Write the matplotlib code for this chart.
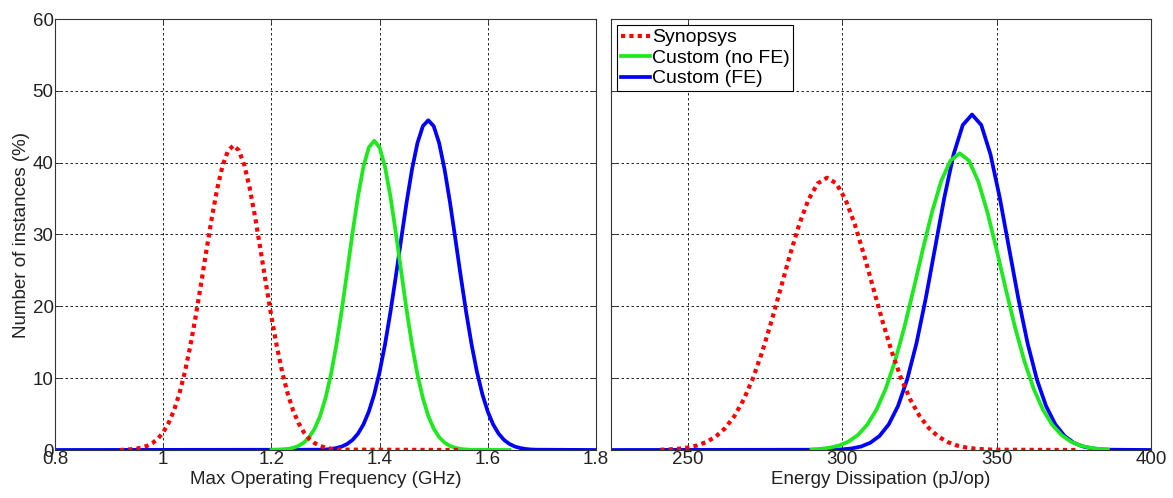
import matplotlib
matplotlib.use('Agg')
import matplotlib.pyplot as plt
import numpy as np

plt.rcParams['font.family'] = ['Liberation Sans', 'DejaVu Sans']

labels = ['Synopsys', 'Custom (no FE)', 'Custom (FE)']

# left panel: max operating frequency (GHz)
freq_syn_x = np.r_[0.92, np.arange(0.93, 1.335, 0.01), 1.55]
freq_syn_y = [0, 0.05, 0.10, 0.18, 0.33, 0.57, 0.96, 1.56, 2.47, 3.76, 5.53, 7.87, 10.84, 14.44,
              18.58, 23.13, 27.84, 32.38, 36.44, 39.64, 41.69, 42.40, 41.69, 39.64, 36.44, 32.38,
              27.84, 23.13, 18.58, 14.44, 10.84, 7.87, 5.53, 3.76, 2.47, 1.56, 0.96, 0.57, 0.33,
              0.18, 0.10, 0.05, 0]
freq_nofe_x = np.r_[1.20, np.arange(1.21, 1.575, 0.01), 1.64]
freq_nofe_y = [0, 0.03, 0.07, 0.15, 0.30, 0.57, 1.03, 1.80, 2.98, 4.74, 7.21, 10.49, 14.60, 19.45,
               24.80, 30.25, 35.30, 39.41, 42.11, 43.05, 42.11, 39.41, 35.30, 30.25, 24.80, 19.45,
               14.60, 10.49, 7.21, 4.74, 2.98, 1.80, 1.03, 0.57, 0.30, 0.15, 0.07, 0.03, 0]
freq_fe_x = np.r_[0.8, np.arange(1.29, 1.695, 0.01), 1.8]
freq_fe_y = [0, 0.04, 0.07, 0.14, 0.27, 0.48, 0.84, 1.40, 2.27, 3.54, 5.33, 7.74, 10.86, 14.69,
             19.19, 24.18, 29.41, 34.53, 39.11, 42.75, 45.09, 45.90, 45.09, 42.75, 39.11, 34.53,
             29.41, 24.18, 19.19, 14.69, 10.86, 7.74, 5.33, 3.54, 2.27, 1.40, 0.84, 0.48, 0.27,
             0.14, 0.07, 0.04, 0]

# right panel: energy dissipation (pJ/op)
energy_syn_x = np.r_[np.arange(241, 350, 3), 376]
energy_syn_y = [0.04, 0.09, 0.18, 0.35, 0.64, 1.12, 1.89, 3.05, 4.72, 7.02, 9.99, 13.66, 17.91,
                22.52, 27.16, 31.42, 34.87, 37.12, 37.90, 37.12, 34.87, 31.42, 27.16, 22.52, 17.91,
                13.66, 9.99, 7.02, 4.72, 3.05, 1.89, 1.12, 0.64, 0.35, 0.18, 0.09, 0.04, 0]
energy_nofe_x = np.arange(290, 387, 3)
energy_nofe_y = [0.07, 0.16, 0.33, 0.64, 1.18, 2.08, 3.50, 5.59, 8.50, 12.32, 16.98, 22.28, 27.82,
                 33.07, 37.42, 40.29, 41.30, 40.29, 37.42, 33.07, 27.82, 22.28, 16.98, 12.32, 8.50,
                 5.59, 3.50, 2.08, 1.18, 0.64, 0.33, 0.16, 0.07]
energy_fe_x = np.r_[225, np.arange(297, 388, 3), 400]
energy_fe_y = [0, 0.04, 0.09, 0.22, 0.48, 1.00, 1.95, 3.56, 6.11, 9.84, 14.87, 21.10, 28.09, 35.09,
               41.12, 45.24, 46.70, 45.24, 41.12, 35.09, 28.09, 21.10, 14.87, 9.84, 6.11, 3.56,
               1.95, 1.00, 0.48, 0.22, 0.09, 0.04, 0]

red, green, blue = '#ff0000', '#1ee81e', '#0000ff'
fs = 13.5

fig = plt.figure(figsize=(11.73, 4.98), dpi=100)
ax1 = fig.add_axes([55 / 1173, 48 / 498, 541 / 1173, 431 / 498])
ax2 = fig.add_axes([611 / 1173, 48 / 498, 540 / 1173, 431 / 498])


def style(ax, xlim, xticks, xticklabels, xlabel):
    ax.set_xlim(xlim); ax.set_ylim(0, 60)
    ax.set_xticks(xticks); ax.set_xticklabels(xticklabels)
    ax.set_yticks(np.arange(0, 61, 10))
    ax.grid(True, color='black', linestyle=(0, (3, 3)), linewidth=0.6)
    ax.set_axisbelow(True)
    ax.tick_params(direction='in', top=True, right=True, length=4, width=0.6,
                   labelsize=fs, pad=1, colors='#222222')
    for s in ax.spines.values():
        s.set_linewidth(0.8); s.set_color('#333333')
    ax.set_xlabel(xlabel, size=fs, labelpad=2, color='#222222')


l1, = ax1.plot(freq_syn_x, freq_syn_y, color=red, lw=3, linestyle=(0, (1, 1)), zorder=4)
l2, = ax1.plot(freq_nofe_x, freq_nofe_y, color=green, lw=2.7, zorder=3)
l3, = ax1.plot(freq_fe_x, freq_fe_y, color=blue, lw=2.7, zorder=2)
style(ax1, (0.8, 1.8), [0.8, 1.0, 1.2, 1.4, 1.6, 1.8], ['0.8', '1', '1.2', '1.4', '1.6', '1.8'],
      'Max Operating Frequency (GHz)')
ax1.set_ylabel('Number of instances (%)', size=fs, labelpad=2, color='#222222')

ax2.plot(energy_syn_x, energy_syn_y, color=red, lw=3, linestyle=(0, (1, 1)), zorder=4)
ax2.plot(energy_nofe_x, energy_nofe_y, color=green, lw=2.7, zorder=3)
ax2.plot(energy_fe_x, energy_fe_y, color=blue, lw=2.7, zorder=2)
style(ax2, (225, 400), [250, 300, 350, 400], ['250', '300', '350', '400'],
      'Energy Dissipation (pJ/op)')
ax2.set_yticklabels([])

leg = ax2.legend([l1, l2, l3], labels, loc='upper left', bbox_to_anchor=(0.0, 1.0),
                 fontsize=14, handlelength=1.5, handletextpad=0.1, labelspacing=0.15,
                 borderpad=0.2, borderaxespad=0.3, fancybox=False, framealpha=1)
leg.get_frame().set_edgecolor('black')
leg.get_frame().set_linewidth(0.8)

plt.savefig('out.png', dpi=100, facecolor='white')
plt.close()
